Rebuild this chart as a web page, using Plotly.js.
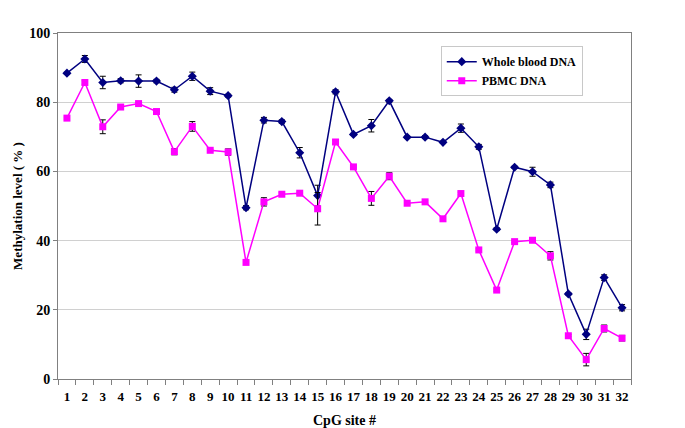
<!DOCTYPE html>
<html><head><meta charset="utf-8">
<script src="https://cdn.plot.ly/plotly-3.0.1.min.js"></script>
<style>html,body{margin:0;padding:0;background:#fff}</style>
</head><body><div id="chart" style="width:685px;height:428px"></div>
<script>
const sites = ["1","2","3","4","5","6","7","8","9","10","11","12","13","14","15","16","17","18","19","20","21","22","23","24","25","26","27","28","29","30","31","32"];
const wholeBlood = [88.4,92.5,85.7,86.2,86.1,86.1,83.6,87.5,83.2,81.9,49.5,74.8,74.4,65.4,53.0,83.0,70.7,73.2,80.4,69.9,69.9,68.4,72.5,67.1,43.3,61.2,59.9,56.1,24.6,12.9,29.3,20.6];
const wholeBloodErr = [0.3,1.0,1.8,0.6,1.8,0.5,0.7,1.2,1.0,0.4,0.6,0.8,0.5,1.5,3.0,0.6,0.3,1.8,0.4,0.3,0.4,0.3,1.2,0.7,0.4,0.3,1.3,0.8,0.3,1.5,0.8,0.9];
const pbmc = [75.4,85.7,72.9,78.6,79.6,77.3,65.7,73.0,66.1,65.6,33.7,51.2,53.4,53.7,49.2,68.5,61.3,52.2,58.6,50.8,51.2,46.3,53.6,37.3,25.7,39.7,40.1,35.6,12.5,5.6,14.6,11.8];
const pbmcErr = [0.3,0.5,2.0,0.3,0.4,0.3,0.9,1.4,0.3,0.9,0.3,1.2,0.4,0.3,4.7,0.5,0.3,2.0,1.0,0.3,0.3,0.3,0.4,0.3,0.3,0.3,0.4,1.2,0.3,1.8,1.0,0.8];

const errStyle = (arr) => ({type:'data', array: arr, visible:true, color:'#000', thickness:1, width:3});
const traces = [
  {x: sites, y: wholeBlood, name: 'Whole blood DNA', type:'scatter', mode:'lines+markers',
   line:{color:'#000080', width:1.5}, marker:{symbol:'diamond', size:7, color:'#000080'},
   error_y: errStyle(wholeBloodErr)},
  {x: sites, y: pbmc, name: 'PBMC DNA', type:'scatter', mode:'lines+markers',
   line:{color:'#FF00FF', width:1.5}, marker:{symbol:'square', size:7, color:'#FF00FF'},
   error_y: errStyle(pbmcErr)}
];
const fam = '"Liberation Serif", "Times New Roman", serif';
const layout = {
  width:685, height:428,
  margin:{l:58, r:54, t:33, b:49},
  paper_bgcolor:'#fff', plot_bgcolor:'#fff',
  font: {family:fam, color:'#000', size:13, weight:'bold'},
  showlegend:true,
  legend:{x:0.668, y:0.962, xanchor:'left', yanchor:'top', bordercolor:'#c8c8c8', borderwidth:1,
    bgcolor:'#fff', itemwidth:30, font:{family:fam, size:12, weight:'bold', color:'#000'}, tracegroupgap:0},
  xaxis:{type:'category', range:[-0.5,31.5], tickson:'boundaries', ticks:'outside', ticklen:5,
    tickangle:0, ticklabelstandoff:5, tickcolor:'#808080', showline:true, linecolor:'#808080', linewidth:1, mirror:true,
    showgrid:false, zeroline:false, automargin:false, tickfont:{family:fam, size:13, weight:'bold'},
    title:{text:'CpG site #', font:{family:fam, size:14, weight:'bold'}}},
  yaxis:{range:[0,100], dtick:20, ticks:'outside', ticklen:4, tickcolor:'#808080',
    showline:true, linecolor:'#808080', linewidth:1, mirror:true,
    showgrid:true, gridcolor:'#d0d0d0', zeroline:false, automargin:true,
    tickfont:{family:fam, size:14, weight:'bold'},
    title:{text:'Methylation level ( % )', font:{family:fam, size:13, weight:'bold'}, standoff:3}}
};
Plotly.newPlot('chart', traces, layout, {displayModeBar:false, staticPlot:true});
</script></body></html>
